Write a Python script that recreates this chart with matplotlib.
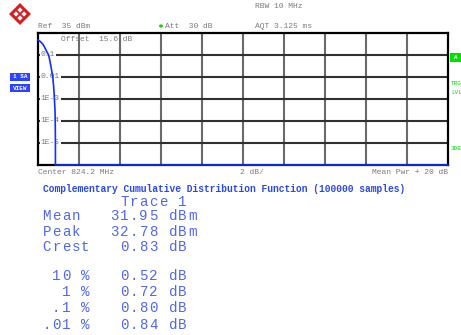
import numpy as np
import matplotlib
matplotlib.use("Agg")
import matplotlib.pyplot as plt
from matplotlib.patches import Rectangle, Polygon
from matplotlib.transforms import blended_transform_factory

# CCDF trace 1 (dB above mean power vs. probability)
trace_db = [0.0, 0.1, 0.2, 0.26, 0.35, 0.45, 0.52, 0.62, 0.72, 0.77, 0.80, 0.83, 0.84, 0.85, 0.85, 20.0]
trace_prob = [0.48, 0.42, 0.34, 0.29, 0.2, 0.13, 0.1, 0.035, 0.01, 0.003, 0.001, 3e-4, 1e-4, 1e-5, 1e-6, 1e-6]

ytick_vals = [0.1, 0.01, 1e-3, 1e-4, 1e-5]
ytick_labels = ["0.1", "0.01", "1E-3", "1E-4", "1E-5"]

stats_lines = [
    "        Trace 1",
    "Mean   31.95 dBm",
    "Peak   32.78 dBm",
    "Crest   0.83 dB",
    " 10 %   0.52 dB",
    "  1 %   0.72 dB",
    " .1 %   0.80 dB",
    ".01 %   0.84 dB",
]
stats_y = [201.5, 216.5, 232, 247, 276.5, 292.5, 308.5, 325]

W, H = 461, 335
MONO = "Liberation Mono"
GRAY = "#7a7a7a"
BLUE_TXT = "#5068e8"
TRACE = "#1030ff"
GREEN = "#10d010"

fig = plt.figure(figsize=(W / 100, H / 100), dpi=100)
fig.patch.set_facecolor("white")


def px(x, y):
    return x / W, 1 - y / H


def ftext(x, y, s, **kw):
    kw.setdefault("family", MONO)
    kw.setdefault("fontsize", 5.8)
    kw.setdefault("color", GRAY)
    kw.setdefault("va", "center")
    fx, fy = px(x, y)
    fig.text(fx, fy, s, **kw)


# plot area
left, right, top, bottom = 38, 448, 33, 165
ax = fig.add_axes([left / W, 1 - bottom / H, (right - left) / W, (bottom - top) / H])
ax.set_yscale("log")
ax.set_xlim(0, 20)
ax.set_ylim(1e-6, 1)
ax.set_xticks([])
ax.set_yticks([])
ax.minorticks_off()
for s in ax.spines.values():
    s.set_color("black")
    s.set_linewidth(1.6)

for xv in np.arange(2, 20, 2):
    ax.axvline(xv, color="#6a6a6a", lw=1.5, zorder=1)
for yv in [0.1, 0.01, 1e-3, 1e-4, 1e-5]:
    ax.axhline(yv, color="#303030", lw=1.5, zorder=1)

tr = blended_transform_factory(ax.transAxes, ax.transData)
for yv, lab in zip(ytick_vals, ytick_labels):
    ax.text(0.007, yv, lab, transform=tr, family=MONO, fontsize=5.8, color=GRAY,
            va="center", ha="left", zorder=2,
            bbox=dict(facecolor="white", edgecolor="none", pad=0.6))

ax.plot(trace_db, trace_prob, color=TRACE, lw=1.2, zorder=3, clip_on=False)

ax.text(0.056, 0.98, "Offset  15.6 dB", transform=ax.transAxes, family=MONO,
        fontsize=5.8, color=GRAY, va="top", ha="left", zorder=2)

# header
ftext(255, 7, "RBW 10 MHz")
ftext(38, 26, "Ref  35 dBm")
ftext(165, 26, "Att  30 dB")
fig.add_artist(plt.Circle(px(161, 26), 1.2 / W, color=GREEN, transform=fig.transFigure))
ftext(255, 26, "AQT 3.125 ms")

# footer of the plot
ftext(38, 172, "Center 824.2 MHz")
ftext(240, 172, "2 dB/")
ftext(448, 172, "Mean Pwr + 20 dB", ha="right")

# left side badges
for y0, lab in [(73, "1 SA"), (84, "VIEW")]:
    fig.add_artist(Rectangle(px(10, y0 + 8), 20 / W, 8 / H, facecolor="#2a44ff",
                             edgecolor="none", transform=fig.transFigure))
    ftext(20, y0 + 4, lab, color="white", fontsize=4.3, ha="center", weight="bold")

# right side markers
fig.add_artist(Rectangle(px(450, 62), 11 / W, 9 / H, facecolor="#00e000",
                         edgecolor="none", transform=fig.transFigure))
ftext(455.5, 57.5, "A", color="white", fontsize=4.3, ha="center", weight="bold")
ftext(451, 84, "TRG", color=GREEN, fontsize=4.3)
ftext(451, 93, "LVL", color=GREEN, fontsize=4.3)
ftext(451, 149, "3DB", color=GREEN, fontsize=4.3)

# logo
cx, cy, r = 20, 14, 11
fig.add_artist(Polygon([px(cx - r, cy), px(cx, cy - r), px(cx + r, cy), px(cx, cy + r)],
                       closed=True, facecolor="#d42020", edgecolor="none",
                       transform=fig.transFigure))
for dx, dy in [(-4, 0), (4, 0), (0, -4), (0, 4)]:
    s = 2.6
    fig.add_artist(Polygon([px(cx + dx - s, cy + dy), px(cx + dx, cy + dy - s),
                            px(cx + dx + s, cy + dy), px(cx + dx, cy + dy + s)],
                           closed=True, facecolor="white", edgecolor="none",
                           transform=fig.transFigure))

# results
ftext(224, 188.5, "Complementary Cumulative Distribution Function (100000 samples)",
      color="#2a4ae8", fontsize=6.9, weight="bold", ha="center")
# the analyzer spaces its characters wider than the font does
cw = 9.7
for yy, line in zip(stats_y, stats_lines):
    for i, ch in enumerate(line):
        if ch != " ":
            ftext(41.8 + i * cw + cw / 2, yy, ch, color=BLUE_TXT, fontsize=10.2,
                  ha="center")

fig.savefig("out.png", dpi=100)
